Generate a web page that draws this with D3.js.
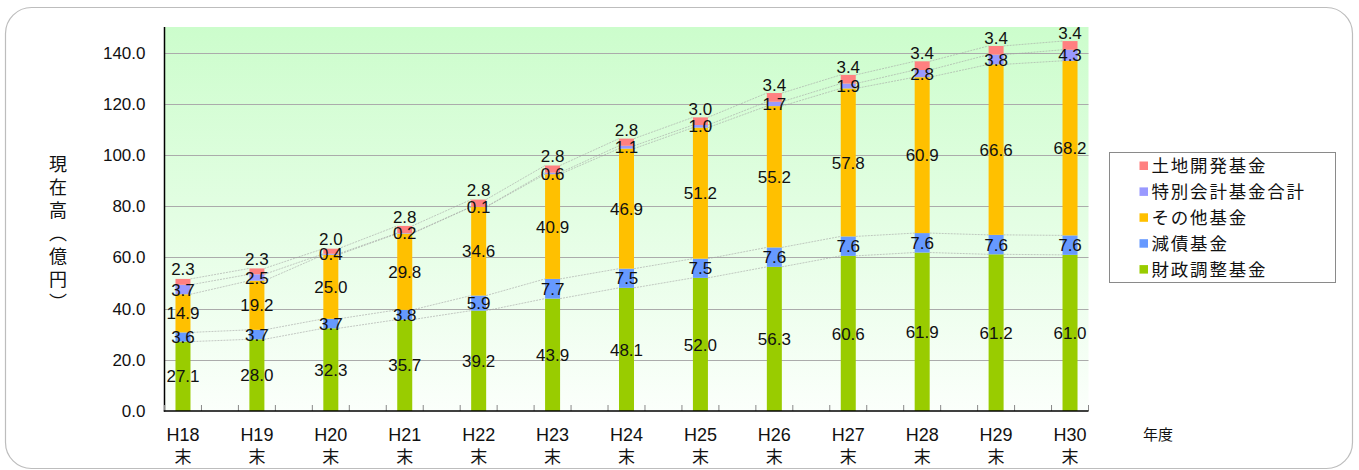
<!DOCTYPE html>
<html>
<head>
<meta charset="utf-8">
<script src="https://cdn.jsdelivr.net/npm/d3@7"></script>
<style>
  html, body { margin: 0; padding: 0; background: #fff; }
  svg { display: block; }
</style>
</head>
<body>
<svg id="chart" width="1359" height="470"></svg>
<script>
// Fund balances at fiscal year end (億円)
const categories = ["H18", "H19", "H20", "H21", "H22", "H23", "H24", "H25", "H26", "H27", "H28", "H29", "H30"];
const zaiseiChousei = [27.1, 28.0, 32.3, 35.7, 39.2, 43.9, 48.1, 52.0, 56.3, 60.6, 61.9, 61.2, 61.0];
const gensai        = [3.6, 3.7, 3.7, 3.8, 5.9, 7.7, 7.5, 7.5, 7.6, 7.6, 7.6, 7.6, 7.6];
const sonotaKikin   = [14.9, 19.2, 25.0, 29.8, 34.6, 40.9, 46.9, 51.2, 55.2, 57.8, 60.9, 66.6, 68.2];
const tokubetsu     = [3.7, 2.5, 0.4, 0.2, 0.1, 0.6, 1.1, 1.0, 1.7, 1.9, 2.8, 3.8, 4.3];
const tochiKaihatsu = [2.3, 2.3, 2.0, 2.8, 2.8, 2.8, 2.8, 3.0, 3.4, 3.4, 3.4, 3.4, 3.4];
const yTicks = [0, 20, 40, 60, 80, 100, 120, 140];

// Stack order from bottom to top
const series = [
  { name: "財政調整基金",     values: zaiseiChousei, color: "#99cc00" },
  { name: "減債基金",         values: gensai,        color: "#6699ff" },
  { name: "その他基金",       values: sonotaKikin,   color: "#ffc000" },
  { name: "特別会計基金合計", values: tokubetsu,     color: "#9999ff" },
  { name: "土地開発基金",     values: tochiKaihatsu, color: "#ff8080" }
];

const svg = d3.select("#chart");
const plot = { left: 164.5, right: 1088.5, top: 27, bottom: 411 };
const numFont = "'Liberation Sans', Arial, sans-serif";
const narrowFont = "'Liberation Sans Narrow', 'Arial Narrow', 'Liberation Sans', sans-serif";
const jpFont = "'Noto Sans CJK JP', 'Noto Sans', sans-serif";

// Outer rounded frame
svg.append("rect")
  .attr("x", 5.5).attr("y", 7.5)
  .attr("width", 1347).attr("height", 461)
  .attr("rx", 26).attr("ry", 26)
  .attr("fill", "#fff").attr("stroke", "#bdbdbd").attr("stroke-width", 1.2);

// Plot background gradient
const defs = svg.append("defs");
const grad = defs.append("linearGradient").attr("id", "plotBg")
  .attr("x1", 0).attr("y1", 0).attr("x2", 0).attr("y2", 1);
grad.append("stop").attr("offset", "0%").attr("stop-color", "#ccfdcc");
grad.append("stop").attr("offset", "100%").attr("stop-color", "#fbfffb");

svg.append("rect")
  .attr("x", plot.left).attr("y", plot.top)
  .attr("width", plot.right - plot.left).attr("height", plot.bottom - plot.top)
  .attr("fill", "url(#plotBg)");

const x = d3.scalePoint().domain(categories).range([plot.left, plot.right]).padding(0.25);
const y = d3.scaleLinear().domain([0, 150]).range([plot.bottom, plot.top]);
const step = x.step();
const barW = 15;

// Horizontal gridlines
svg.append("g").selectAll("line")
  .data(yTicks.filter(d => d > 0))
  .join("line")
  .attr("x1", plot.left).attr("x2", plot.right)
  .attr("y1", d => Math.round(y(d)) + 0.5).attr("y2", d => Math.round(y(d)) + 0.5)
  .attr("stroke", "#ababab").attr("stroke-width", 1);

// Y axis labels
const yAxis = d3.axisLeft(y).tickValues(yTicks).tickFormat(d3.format(".1f")).tickSize(0).tickPadding(19);
const yg = svg.append("g").attr("transform", `translate(${plot.left},0)`).call(yAxis);
yg.select(".domain").remove();
yg.selectAll("text").attr("font-family", numFont).attr("font-size", 17).attr("fill", "#111");

// Stacked data
const stackData = categories.map((c, i) => {
  const row = { cat: c };
  series.forEach((s, k) => { row[k] = s.values[i]; });
  return row;
});
const stacked = d3.stack().keys(series.map((s, k) => k))(stackData);

// Series lines connecting segment tops of adjacent bars
const lineG = svg.append("g");
stacked.forEach(layer => {
  for (let i = 0; i < categories.length - 1; i++) {
    lineG.append("line")
      .attr("x1", x(categories[i]) + barW / 2)
      .attr("y1", y(layer[i][1]))
      .attr("x2", x(categories[i + 1]) - barW / 2)
      .attr("y2", y(layer[i + 1][1]))
      .attr("stroke", "#a2a2a2").attr("stroke-width", 0.6)
      .attr("stroke-dasharray", "2,1");
  }
});

// Bars
const barG = svg.append("g");
stacked.forEach((layer, k) => {
  barG.append("g").selectAll("rect")
    .data(layer)
    .join("rect")
    .attr("x", d => x(d.data.cat) - barW / 2)
    .attr("y", d => y(d[1]))
    .attr("width", barW)
    .attr("height", d => y(d[0]) - y(d[1]))
    .attr("fill", series[k].color);
});

// Axes lines
svg.append("line")
  .attr("x1", plot.left).attr("x2", plot.left)
  .attr("y1", plot.top).attr("y2", plot.bottom + 0.5)
  .attr("stroke", "#000").attr("stroke-width", 1.5);

// Inward minor ticks on the category axis
const tickXs = [];
categories.forEach(c => { tickXs.push(x(c) - step / 4, x(c) + step / 4); });
svg.append("g").selectAll("line")
  .data(tickXs)
  .join("line")
  .attr("x1", d => d).attr("x2", d => d)
  .attr("y1", plot.bottom - 6).attr("y2", plot.bottom)
  .attr("stroke", "#888").attr("stroke-width", 1);

svg.append("line")
  .attr("x1", plot.left - 0.7).attr("x2", plot.right)
  .attr("y1", plot.bottom).attr("y2", plot.bottom)
  .attr("stroke", "#000").attr("stroke-width", 1.5);

// Value labels
const labelG = svg.append("g")
  .attr("font-family", numFont).attr("font-size", 17).attr("fill", "#111")
  .attr("text-anchor", "middle");
stacked.forEach((layer, k) => {
  const lift = k === series.length - 1 ? 12.8 : 0;
  labelG.append("g").selectAll("text")
    .data(layer)
    .join("text")
    .attr("x", d => x(d.data.cat))
    .attr("y", d => (y(d[0]) + y(d[1])) / 2 - lift)
    .attr("dy", "0.36em")
    .text(d => d3.format(".1f")(d[1] - d[0]));
});

// Category labels (two lines)
const xg = svg.append("g").attr("text-anchor", "middle").attr("fill", "#111");
categories.forEach(c => {
  xg.append("text")
    .attr("x", x(c)).attr("y", 441)
    .attr("font-family", narrowFont).attr("font-size", 18)
    .text(c);
  xg.append("text")
    .attr("x", x(c)).attr("y", 463)
    .attr("font-family", jpFont).attr("font-size", 17)
    .text("末");
});

svg.append("text")
  .attr("x", 1158).attr("y", 440)
  .attr("text-anchor", "middle")
  .attr("font-family", jpFont).attr("font-size", 15).attr("fill", "#111")
  .text("年度");

// Vertical Y-axis title
svg.append("text")
  .attr("x", 58).attr("y", 155)
  .attr("font-family", jpFont).attr("font-size", 18).attr("fill", "#111")
  .style("writing-mode", "vertical-rl")
  .style("letter-spacing", "5px")
  .text("現在高（億円）");

// Legend
const legend = svg.append("g");
legend.append("rect")
  .attr("x", 1109.5).attr("y", 152.5)
  .attr("width", 226).attr("height", 130)
  .attr("fill", "#fff").attr("stroke", "#8a8a8a").attr("stroke-width", 1);
const legendOrder = series.slice().reverse();
legendOrder.forEach((s, i) => {
  const cy = 166 + i * 25.9;
  legend.append("rect")
    .attr("x", 1139.5).attr("y", cy - 4.5)
    .attr("width", 8.5).attr("height", 8.5)
    .attr("fill", s.color);
  legend.append("text")
    .attr("x", 1151.5).attr("y", cy)
    .attr("dy", "0.36em")
    .attr("font-family", jpFont).attr("font-size", 17.5).attr("fill", "#111")
    .style("letter-spacing", "1.8px")
    .text(s.name);
});
</script>
</body>
</html>
